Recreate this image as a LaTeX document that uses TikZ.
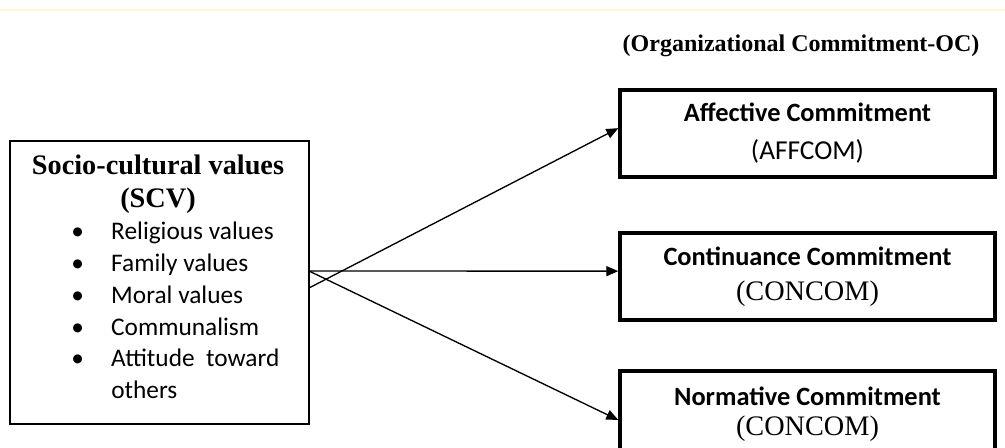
\documentclass[tikz,border=0pt]{standalone}
\usepackage{fontspec}
\setmainfont{Liberation Serif}
\newfontfamily\calibri{Carlito}
\usetikzlibrary{arrows.meta}

\definecolor{paleline}{RGB}{255,246,214}

\tikzset{
  ocbox/.style={draw, line width=2.8pt, minimum width=281pt, minimum height=65pt,
    align=center, inner sep=0pt, font=\fontsize{19.8}{24}\selectfont},
  scvbox/.style={draw, line width=1.1pt, minimum width=224pt, minimum height=212pt},
  scvtitle/.style={font=\fontsize{21.2}{25}\selectfont\bfseries, inner sep=0pt},
  scvitems/.style={font=\fontsize{19}{23.8}\selectfont\calibri, inner sep=0pt},
  conn/.style={line width=1pt, -{Triangle[length=9pt,width=7.5pt]}}
}

\begin{document}
\begin{tikzpicture}[x=0.75pt,y=-0.75pt]
  \clip (0,0) rectangle (1005,448);
  \fill[white] (0,0) rectangle (1005,448);
  \draw[line width=0.8pt, paleline] (0,10) -- (1005,10);

  % outcome side
  \node[font=\fontsize{18}{22}\selectfont\bfseries, inner sep=0pt] (ochead) at (801,46) {(Organizational Commitment-OC)};
  \node[ocbox] (aff) at (807.5,133.5) {{\calibri\bfseries Affective Commitment}\\[4.5pt]{\calibri\fontsize{20.5}{24}\selectfont (AFFCOM)}};
  \node[ocbox] (con) at (807.5,276.5) {{\calibri\bfseries Continuance Commitment}\\[2pt]{\fontsize{21.2}{24}\selectfont (CONCOM)}};
  \node[ocbox] (nor) at (807.5,414) {{\calibri\bfseries Normative Commitment}\\[-1.5pt]{\fontsize{21.2}{24}\selectfont (CONCOM)}};

  % predictor side
  \node[scvbox] (scv) at (159.5,282.5) {};
  \node[scvtitle, anchor=base] (scvname) at (158,175) {Socio-cultural values};
  \node[scvtitle, anchor=base] (scvabbr) at (158,208) {(SCV)};
  \node[scvitems, anchor=base west] (scvlist) at (71,240) {%
    \begin{tabular}[t]{@{}p{30pt}@{}l@{}}
      \textbullet & Religious values\\
      \textbullet & Family values\\
      \textbullet & Moral values\\
      \textbullet & Communalism\\
      \textbullet & Attitude\ \ toward\\
                  & others
    \end{tabular}};

  \coordinate (fork) at (309,271);
  \coordinate (forkb) at (309,288);
  \path[conn]
    (forkb) edge ([yshift=4pt]aff.west)
    (fork) edge ([yshift=4pt]con.west)
    (fork) edge ([yshift=-4.5pt]nor.west);
\end{tikzpicture}
\end{document}
